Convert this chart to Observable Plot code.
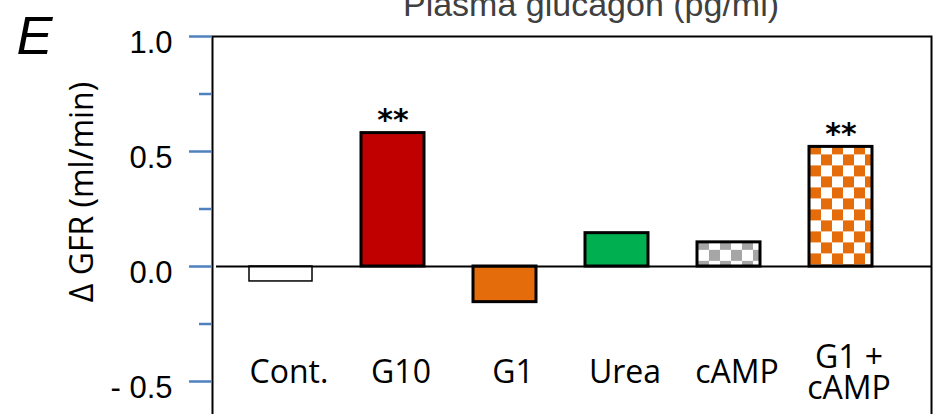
<!DOCTYPE html>
<html><head><meta charset="utf-8">
<script src="https://cdn.jsdelivr.net/npm/d3@7"></script>
<script src="https://cdn.jsdelivr.net/npm/@observablehq/plot@0.6"></script>
<style>
html,body{margin:0;padding:0;background:#fff;}
#chart svg{display:block;}
</style></head><body><div id="chart"></div>
<script>
// ---- data ----
const categories = ["Cont.", "G10", "G1", "Urea", "cAMP", "G1 + cAMP"];
const tickLabels = ["Cont.", "G10", "G1", "Urea", "cAMP", "G1 +\ncAMP"];
const deltaGFR = [-0.065, 0.58, -0.155, 0.145, 0.105, 0.52];
const significance = ["", "**", "", "", "", "**"];
const yMajorTicks = [-0.5, 0.0, 0.5, 1.0];
const yMinorTicks = [-0.25, 0.25, 0.75];
const titleText = "Plasma glucagon (pg/ml)";
const panelLetter = "E";
const yTitle = "Δ GFR (ml/min)";

const rows = categories.map((c, i) => ({category: c, value: deltaGFR[i], label: tickLabels[i], sig: significance[i]}));

const comic = "'Comic Sans MS', 'Open Sans', sans-serif";
const arial = "'Liberation Sans', Arial, sans-serif";
const blue = "#4F81BD";

const chart = Plot.plot({
  width: 934, height: 414,
  marginLeft: 212, marginRight: 3, marginTop: 36, marginBottom: -3,
  style: {background: "white", overflow: "visible"},
  x: {type: "band", domain: categories, paddingInner: 0.44, paddingOuter: 0.22, insetLeft: 12, insetRight: 35, axis: null},
  y: {domain: [-0.6565, 1.0], axis: null},
  color: {type: "ordinal", domain: categories,
          range: ["white", "#C00000", "#E46C0A", "#00B050", "url(#chkGray)", "url(#chkOrange)"]},
  marks: [
    Plot.frame({stroke: "black", strokeWidth: 2}),
    Plot.barY(rows, {x: "category", y: "value", fill: "category", stroke: "black",
      strokeWidth: d => d.category === "Cont." ? 1.5 : 3}),
    Plot.ruleY([0], {stroke: "black", strokeWidth: 2, insetLeft: 4}),
    Plot.axisY(yMajorTicks, {anchor: "left", tickSize: 23, fill: "none", stroke: blue, strokeWidth: 2.5, label: null}),
    Plot.axisY(yMinorTicks, {anchor: "left", tickSize: 13, fill: "none", stroke: blue, strokeWidth: 2.5, label: null}),
    Plot.axisY(yMajorTicks, {anchor: "left", tickSize: 23, tickPadding: 17, stroke: "none", fill: "black", dy: 7,
      fontSize: 31, fontFamily: arial, label: null,
      tickFormat: d => d < 0 ? "- " + Math.abs(d).toFixed(1) : d.toFixed(1)}),
    Plot.text(rows, {x: "category", text: "label", frameAnchor: "bottom", dy: -44, dx: 8, lineAnchor: "middle",
      fontSize: 32, fontFamily: comic, lineHeight: 0.97, fill: "black"}),
    Plot.text(rows.filter(d => d.sig), {x: "category", y: "value", text: "sig", dy: -13, lineAnchor: "middle",
      fontSize: 30, fontWeight: "bold", fontFamily: "'DejaVu Sans', sans-serif", fill: "black"}),
    Plot.text([yTitle], {frameAnchor: "left", rotate: -90, dx: -130, dy: -35, textAnchor: "middle", lineAnchor: "middle",
      fontSize: 32, fontFamily: comic, fill: "black"}),
    Plot.text([titleText], {frameAnchor: "top", dx: 19, dy: -21, lineAnchor: "bottom",
      fontSize: 34, fontFamily: arial, fill: "#404040"}),
    Plot.text([panelLetter], {frameAnchor: "top-left", textAnchor: "start", lineAnchor: "bottom", dx: -196, dy: 17,
      fontSize: 54, fontStyle: "italic", fontFamily: arial, fill: "black"})
  ]
});

// checkerboard patterns
const svg = d3.select(chart);
const defs = svg.insert("defs", ":first-child");
const xs = chart.scale("x"), ys = chart.scale("y");
function checker(id, color, cat) {
  const i = categories.indexOf(cat);
  const x0 = xs.apply(cat), y0 = ys.apply(deltaGFR[i]);
  const p = defs.append("pattern").attr("id", id).attr("patternUnits", "userSpaceOnUse")
    .attr("width", 22).attr("height", 22).attr("patternTransform", `translate(${x0 + 1},${y0 - 3})`);
  p.append("rect").attr("width", 22).attr("height", 22).attr("fill", "white");
  p.append("rect").attr("width", 11).attr("height", 11).attr("fill", color);
  p.append("rect").attr("x", 11).attr("y", 11).attr("width", 11).attr("height", 11).attr("fill", color);
}
checker("chkGray", "#A6A6A6", "cAMP");
checker("chkOrange", "#E46C0A", "G1 + cAMP");

document.getElementById("chart").appendChild(chart);
</script></body></html>
